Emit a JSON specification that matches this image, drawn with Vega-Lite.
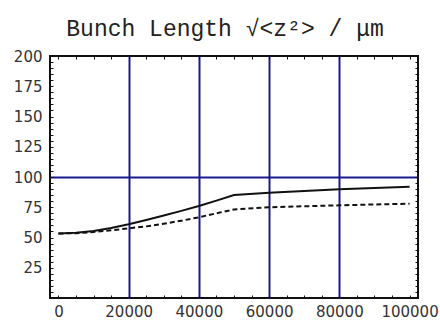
{
  "$schema": "https://vega.github.io/schema/vega-lite/v6.json",
  "width": 368,
  "height": 242,
  "autosize": "none",
  "padding": {"left": 50, "top": 56, "right": 22, "bottom": 23},
  "background": "white",
  "title": {
    "text": "Bunch Length √<z²> / μm",
    "font": "Liberation Mono",
    "fontSize": 23,
    "fontWeight": "normal",
    "color": "#222222",
    "anchor": "middle",
    "frame": "group",
    "dx": -9,
    "offset": 8
  },
  "config": {
    "view": {"stroke": "#111111", "strokeWidth": 2},
    "axis": {
      "title": null,
      "domain": false,
      "grid": false,
      "labelFont": "DejaVu Sans",
      "labelFontSize": 15,
      "labelColor": "#333333",
      "tickColor": "#111111",
      "tickWidth": 1
    }
  },
  "data": {
    "values": [
      {"z": 0, "len": 53.3, "series": "full"},
      {"z": 5000, "len": 54.0, "series": "full"},
      {"z": 10000, "len": 55.4, "series": "full"},
      {"z": 15000, "len": 57.9, "series": "full"},
      {"z": 20000, "len": 61.0, "series": "full"},
      {"z": 25000, "len": 64.5, "series": "full"},
      {"z": 30000, "len": 68.2, "series": "full"},
      {"z": 35000, "len": 72.0, "series": "full"},
      {"z": 40000, "len": 76.0, "series": "full"},
      {"z": 45000, "len": 80.5, "series": "full"},
      {"z": 50000, "len": 85.1, "series": "full"},
      {"z": 60000, "len": 87.0, "series": "full"},
      {"z": 70000, "len": 88.4, "series": "full"},
      {"z": 80000, "len": 89.8, "series": "full"},
      {"z": 90000, "len": 90.9, "series": "full"},
      {"z": 100000, "len": 92.0, "series": "full"},
      {"z": 0, "len": 53.3, "series": "core"},
      {"z": 5000, "len": 53.6, "series": "core"},
      {"z": 10000, "len": 54.5, "series": "core"},
      {"z": 15000, "len": 55.9, "series": "core"},
      {"z": 20000, "len": 57.6, "series": "core"},
      {"z": 25000, "len": 59.2, "series": "core"},
      {"z": 30000, "len": 61.4, "series": "core"},
      {"z": 35000, "len": 63.9, "series": "core"},
      {"z": 40000, "len": 66.7, "series": "core"},
      {"z": 45000, "len": 70.0, "series": "core"},
      {"z": 50000, "len": 73.2, "series": "core"},
      {"z": 60000, "len": 75.0, "series": "core"},
      {"z": 70000, "len": 75.8, "series": "core"},
      {"z": 80000, "len": 76.6, "series": "core"},
      {"z": 90000, "len": 77.3, "series": "core"},
      {"z": 100000, "len": 77.9, "series": "core"}
    ]
  },
  "layer": [
    {
      "transform": [{"filter": "datum.series === 'full'"}],
      "mark": {"type": "point", "opacity": 0},
      "encoding": {
        "x": {
          "field": "z", "type": "quantitative",
          "scale": {"domain": [-2400, 102400], "nice": false, "zero": false},
          "axis": {"orient": "bottom", "grid": true, "values": [20000, 40000, 60000, 80000],
                   "gridColor": "#1a1a8f", "gridWidth": 2, "gridOpacity": 1,
                   "ticks": false, "labels": false}
        },
        "y": {
          "field": "len", "type": "quantitative",
          "scale": {"domain": [0, 200], "nice": false, "zero": false},
          "axis": {"orient": "left", "grid": true, "values": [100],
                   "gridColor": "#1a1a8f", "gridWidth": 2, "gridOpacity": 1,
                   "ticks": false, "labels": false}
        }
      }
    },
    {
      "transform": [{"filter": "datum.series === 'full'"}],
      "mark": {"type": "point", "opacity": 0},
      "encoding": {
        "x": {
          "field": "z", "type": "quantitative",
          "scale": {"domain": [-2400, 102400], "nice": false, "zero": false},
          "axis": {"orient": "top", "labels": false, "tickSize": -3,
                   "values": [0, 5000, 10000, 15000, 20000, 25000, 30000, 35000, 40000, 45000, 50000, 55000, 60000, 65000, 70000, 75000, 80000, 85000, 90000, 95000, 100000]}
        },
        "y": {
          "field": "len", "type": "quantitative",
          "scale": {"domain": [0, 200], "nice": false, "zero": false},
          "axis": {"orient": "right", "labels": false, "tickSize": -3,
                   "values": [5, 10, 15, 20, 25, 30, 35, 40, 45, 50, 55, 60, 65, 70, 75, 80, 85, 90, 95, 100, 105, 110, 115, 120, 125, 130, 135, 140, 145, 150, 155, 160, 165, 170, 175, 180, 185, 190, 195]}
        }
      }
    },
    {
      "transform": [{"filter": "datum.series === 'core'"}],
      "mark": {"type": "line", "color": "#111111", "strokeWidth": 2, "strokeDash": [5, 3]},
      "encoding": {
        "x": {
          "field": "z", "type": "quantitative",
          "scale": {"domain": [-2400, 102400], "nice": false, "zero": false},
          "axis": {"orient": "bottom", "labels": false, "tickSize": -3,
                   "values": [0, 5000, 10000, 15000, 20000, 25000, 30000, 35000, 40000, 45000, 50000, 55000, 60000, 65000, 70000, 75000, 80000, 85000, 90000, 95000, 100000]}
        },
        "y": {
          "field": "len", "type": "quantitative",
          "scale": {"domain": [0, 200], "nice": false, "zero": false},
          "axis": {"orient": "left", "labels": false, "tickSize": -3,
                   "values": [5, 10, 15, 20, 25, 30, 35, 40, 45, 50, 55, 60, 65, 70, 75, 80, 85, 90, 95, 100, 105, 110, 115, 120, 125, 130, 135, 140, 145, 150, 155, 160, 165, 170, 175, 180, 185, 190, 195]}
        }
      }
    },
    {
      "transform": [{"filter": "datum.series === 'full'"}],
      "mark": {"type": "line", "color": "#111111", "strokeWidth": 2},
      "encoding": {
        "x": {
          "field": "z", "type": "quantitative",
          "scale": {"domain": [-2400, 102400], "nice": false, "zero": false},
          "axis": {"orient": "bottom", "ticks": false, "labelPadding": 6, "format": "d",
                   "values": [0, 20000, 40000, 60000, 80000, 100000]}
        },
        "y": {
          "field": "len", "type": "quantitative",
          "scale": {"domain": [0, 200], "nice": false, "zero": false},
          "axis": {"orient": "left", "ticks": false, "labelPadding": 8, "format": "d",
                   "values": [25, 50, 75, 100, 125, 150, 175, 200]}
        }
      }
    }
  ],
  "resolve": {"axis": {"x": "independent", "y": "independent"}}
}
